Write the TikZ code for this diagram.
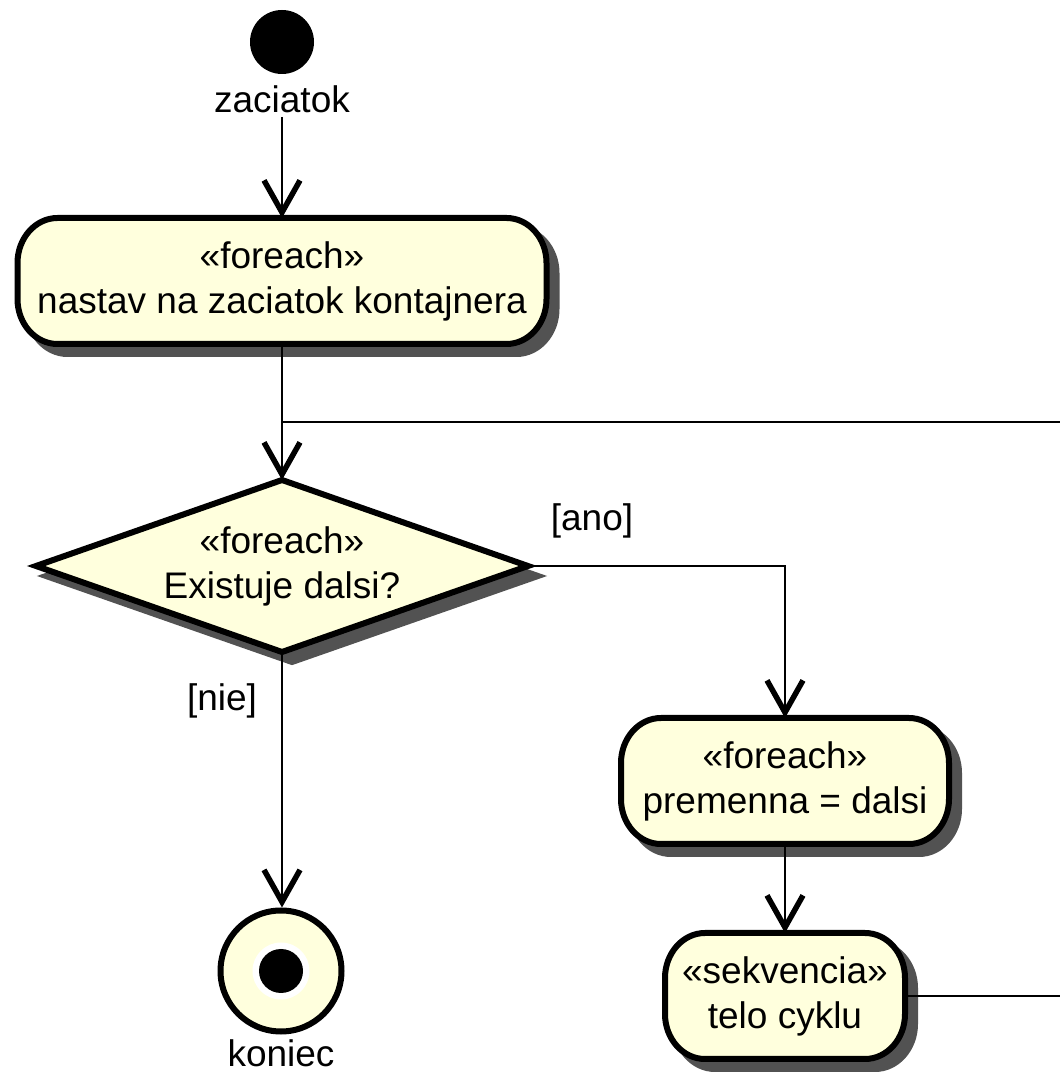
\documentclass[tikz,border=0pt]{standalone}
\usepackage{fontspec}
\setmainfont{Liberation Sans}
\usetikzlibrary{arrows.meta,calc}
\pgfdeclarelayer{bg}
\pgfsetlayers{bg,main}

\definecolor{actyellow}{RGB}{255,255,221}
\definecolor{shadowgray}{RGB}{82,82,82}

\tikzset{
  txt/.style={font=\fontsize{37pt}{45pt}\selectfont, align=center},
  act/.style={txt, rectangle, inner sep=0pt, outer sep=0pt, minimum height=126pt},
  flow/.style={line width=2.6pt,
    -{Straight Barb[length=32pt,width=36pt,line width=5.5pt,sharp]}},
  plain/.style={line width=2.6pt},
  shadowfill/.style={fill=shadowgray, draw=shadowgray, line width=6pt},
  actfill/.style={fill=actyellow, draw=black, line width=6pt},
  guard/.style={txt, inner sep=0pt},
}

% outline of an action node with elliptical end corners
\newcommand\actpath[3]{%
  \path[#2] let \p1=([shift={#3}]#1.north west), \p2=([shift={#3}]#1.south east) in
    (\x1+40pt,\y1) -- (\x2-40pt,\y1)
    arc[start angle=90,end angle=0,x radius=40pt,y radius=45pt]
    -- (\x2,\y2+45pt)
    arc[start angle=0,end angle=-90,x radius=40pt,y radius=45pt]
    -- (\x1+40pt,\y2)
    arc[start angle=270,end angle=180,x radius=40pt,y radius=45pt]
    -- (\x1,\y1-45pt)
    arc[start angle=180,end angle=90,x radius=40pt,y radius=45pt]
    -- cycle;}
\newcommand\actbox[1]{%
  \begin{pgfonlayer}{bg}
    \actpath{#1}{shadowfill}{(10pt,-10pt)}
    \actpath{#1}{actfill}{(0pt,0pt)}
  \end{pgfonlayer}}

\begin{document}
\begin{tikzpicture}[x=1pt,y=1pt]
  \useasboundingbox (0,0) rectangle (1060,1074);
  \clip (0,0) rectangle (1060,1074);

  % initial node
  \node[circle, fill=black, inner sep=0pt, minimum size=64pt] (start) at (282,1032) {};
  \node[txt, anchor=base] (zac) at (282,961) {zaciatok};

  % actions and decision
  \node[act, minimum width=529pt] (box1) at (282,793)
    {«foreach»\\nastav na zaciatok kontajnera};
  \actbox{box1}

  \node[txt, rectangle, inner sep=0pt, outer sep=0pt,
        minimum width=492pt, minimum height=172pt] (dia) at (282,508)
    {«foreach»\\Existuje dalsi?};
  \begin{pgfonlayer}{bg}
    \path[shadowfill] ([shift={(10pt,-10pt)}]dia.north) -- ([shift={(10pt,-10pt)}]dia.east)
      -- ([shift={(10pt,-10pt)}]dia.south) -- ([shift={(10pt,-10pt)}]dia.west) -- cycle;
    \path[actfill] (dia.north) -- (dia.east) -- (dia.south) -- (dia.west) -- cycle;
  \end{pgfonlayer}

  \node[act, minimum width=328pt] (box2) at (785,293)
    {«foreach»\\premenna = dalsi};
  \actbox{box2}

  \node[act, minimum width=240pt] (box3) at (785,78)
    {«sekvencia»\\telo cyklu};
  \actbox{box3}

  % final node
  \node[circle, fill=actyellow, draw=black, line width=6pt, inner sep=0pt,
        minimum size=121pt] (endc) at (281,103) {};
  \node[circle, fill=white, inner sep=0pt, minimum size=57pt] (endw) at (endc.center) {};
  \node[circle, fill=black, inner sep=0pt, minimum size=44pt] (endb) at (endc.center) {};
  \node[txt, anchor=base] (kon) at (281,7) {koniec};

  % guards
  \node[guard] (gano) at (592,553) {[ano]};
  \node[guard] (gnie) at (222,373) {[nie]};

  % connectors
  \coordinate (merge) at (282,652);
  \coordinate (loopR) at (1080,0);
  \draw[flow] (zac.south) -- (box1.north);
  \draw[flow] (box1.south) -- (dia.north);
  \draw[flow] (dia.east) -| (box2.north);
  \draw[flow] (dia.south) -- (dia.south |- endc.north);
  \draw[flow] (box2.south) -- (box3.north);
  \draw[plain] (box3.east) -- (box3.east -| loopR) |- (merge);
\end{tikzpicture}
\end{document}
